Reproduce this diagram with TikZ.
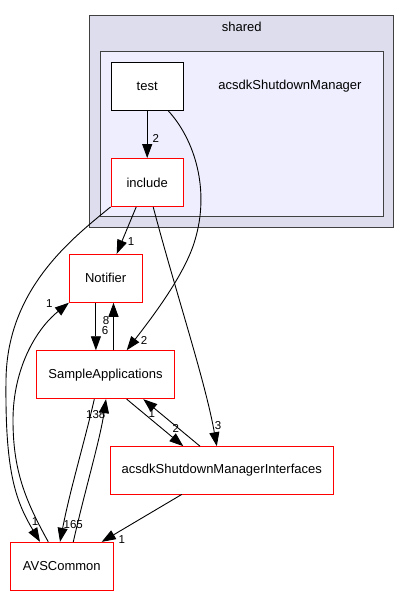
\documentclass[tikz,border=0pt]{standalone}
\usepackage{fontspec}
\setmainfont{Liberation Sans}
\usetikzlibrary{arrows.meta,calc}
\definecolor{outerfill}{HTML}{DDDDEE}
\definecolor{innerfill}{HTML}{EEEEFF}
\definecolor{clusterline}{HTML}{404040}
\begin{document}
\begin{tikzpicture}[x=1pt,y=-1pt,
  dirbox/.style={draw=red,fill=white,line width=0.9pt,minimum height=48pt,inner sep=0pt,font=\fontsize{13}{15}\selectfont},
  plainbox/.style={draw=black,fill=white,line width=0.9pt,minimum height=48pt,inner sep=0pt,font=\fontsize{13}{15}\selectfont},
  dep/.style={line width=0.9pt,-{Triangle[length=14pt,width=10pt]}},
  lbl/.style={inner sep=0pt,font=\fontsize{11.5}{13}\selectfont}]
\useasboundingbox (0,0) rectangle (410,596);
\fill[white] (0,0) rectangle (410,596);
% clusters
\draw[clusterline,fill=outerfill,line width=1pt] (89.3,15.7) rectangle (393.3,227.7);
\node[inner sep=0pt,font=\fontsize{13}{15}\selectfont] (sharedlbl) at (241.7,27.3) {shared};
\draw[clusterline,fill=innerfill,line width=1pt] (100.7,51.7) rectangle (383.3,216.7);
\node[inner sep=0pt,font=\fontsize{13}{15}\selectfont] (mgrlbl) at (290,86) {acsdkShutdownManager};
% nodes
\node[plainbox,minimum width=72.3pt] (test) at (147.2,86.3) {test};
\node[dirbox,minimum width=72.3pt] (include) at (147.2,182.5) {include};
\node[dirbox,minimum width=72.7pt] (notifier) at (105.7,278.3) {Notifier};
\node[dirbox,minimum width=137.6pt] (sample) at (105.5,374.7) {SampleApplications};
\node[dirbox,minimum width=223pt,minimum height=47.3pt] (intf) at (221.8,470.3) {acsdkShutdownManagerInterfaces};
\node[dirbox,minimum width=103pt] (avs) at (61.8,566.3) {AVSCommon};
% edges
\draw[dep] (test.south) -- (include.north);
\node[lbl] (l1) at (155.7,138) {2};
\draw[dep] ([xshift=-11pt]include.south) -- ([xshift=11pt]notifier.north);
\node[lbl] (l2) at (131,242) {1};
\draw[dep] (include.south west) .. controls (70,240) and (7,290) .. (6,380) .. controls (5,470) and (15,500) .. ([xshift=-21.8pt]avs.north);
\node[lbl] (l3) at (35,522) {1};
\draw[dep] ([xshift=6pt]include.south) .. controls (175,290) and (205,380) .. ([xshift=-5pt]intf.north);
\node[lbl] (l4) at (218,425.7) {3};
\draw[dep] ([xshift=21pt]test.south) .. controls (195,140) and (210,190) .. (195,240) .. controls (185,275) and (150,320) .. ([xshift=21.2pt]sample.north);
\node[lbl] (l5) at (144,340) {2};
\draw[dep] ([xshift=-9.8pt]notifier.south) -- ([xshift=-9.6pt]sample.north);
\node[lbl] (l6) at (105,330.7) {6};
\draw[dep] ([xshift=8pt]sample.north) -- ([xshift=7.8pt]notifier.south);
\node[lbl] (l7) at (106,320.7) {8};
\draw[dep] ([xshift=21.2pt]sample.south) -- ([xshift=-38.5pt]intf.north);
\node[lbl] (l8) at (175.7,428.3) {2};
\draw[dep] ([xshift=-21.8pt]intf.north) -- ([xshift=37.8pt]sample.south);
\node[lbl] (l9) at (151.7,414) {1};
\draw[dep] ([xshift=-11.2pt]sample.south) .. controls (85,440) and (70,490) .. ([xshift=-1.8pt]avs.north);
\node[lbl] (l10) at (73.3,524.3) {165};
\draw[dep] ([xshift=11.5pt]avs.north) .. controls (85,490) and (100,440) .. ([xshift=0.5pt]sample.south);
\node[lbl] (l11) at (95.7,415) {138};
\draw[dep] ([xshift=-13.5pt]avs.north) .. controls (25,500) and (13,470) .. (13,420) .. controls (13,370) and (35,330) .. (notifier.south west);
\node[lbl] (l12) at (49.3,303.3) {1};
\draw[dep] ([xshift=-40pt]intf.south) -- ([xshift=39.9pt]avs.north);
\node[lbl] (l13) at (121.7,539.3) {1};
\end{tikzpicture}
\end{document}
